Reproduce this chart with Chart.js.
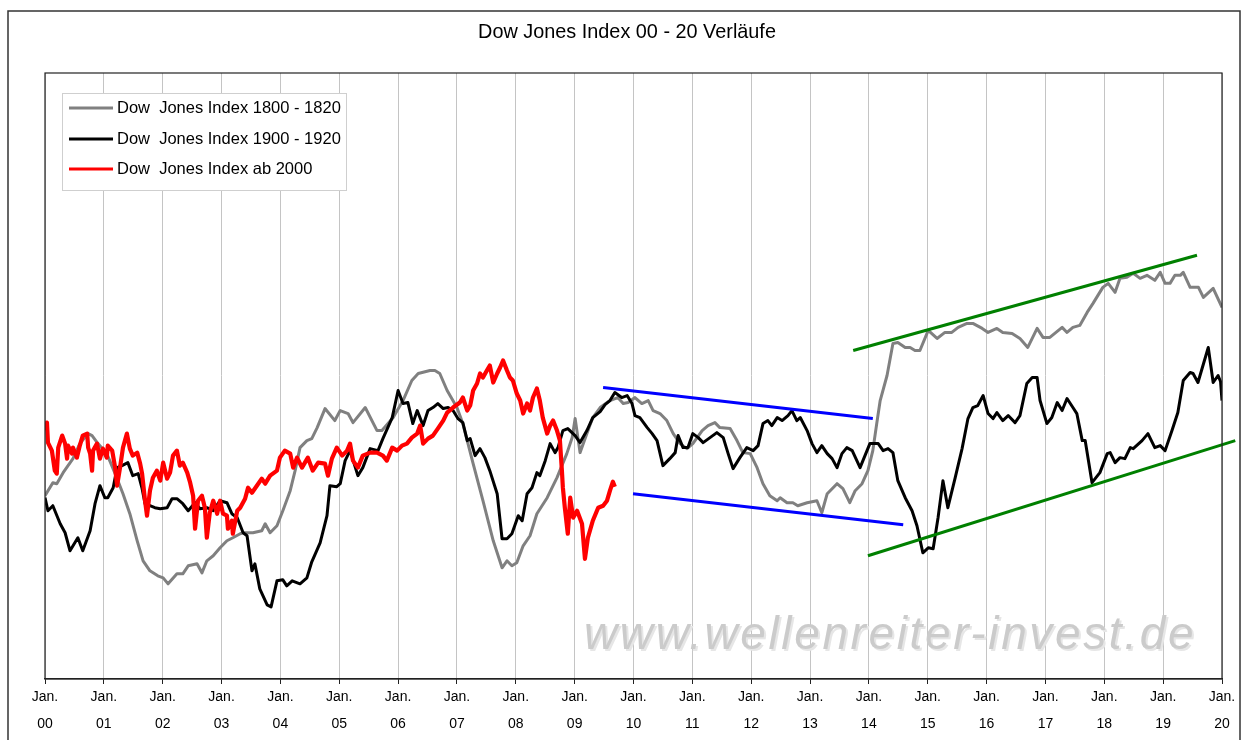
<!DOCTYPE html>
<html>
<head>
<meta charset="utf-8">
<script src="https://cdn.jsdelivr.net/npm/chart.js@4"></script>
<style>
  html, body { margin: 0; padding: 0; background: #fff; }
  #wrap { width: 1245px; height: 740px; position: relative; }
</style>
</head>
<body>
<div id="wrap"><canvas id="myChart"></canvas></div>
<script>
// x = months since Jan. 2000, y = index level (chart has no y labels)
const yearLabels = ["00", "01", "02", "03", "04", "05", "06", "07", "08", "09", "10",
  "11", "12", "13", "14", "15", "16", "17", "18", "19", "20"];

const seriesNames = ["Dow  Jones Index 1800 - 1820", "Dow  Jones Index 1900 - 1920", "Dow  Jones Index ab 2000"];

const dow1800 = [
  [0, 183], [1.6, 196], [2.4, 195], [3.7, 206], [5.7, 220], [7.1, 235], [8.8, 245], [9.6, 243],
  [10.8, 235], [12.6, 225], [14.3, 205], [15.9, 185], [17.3, 165], [18.8, 138], [20, 118], [21.4, 108],
  [23, 103], [24.1, 101], [25.1, 95], [26.9, 105], [28.1, 105], [29.2, 113], [31, 115], [32, 106],
  [33, 118], [34.3, 123], [35.7, 131], [37.1, 138], [38.3, 141], [39.8, 145], [40.4, 146], [42.4, 146],
  [44.2, 148], [44.9, 155], [45.9, 146], [47.3, 153], [48.5, 168], [50, 188], [51, 208], [52, 231],
  [53.4, 238], [54.4, 240], [55.5, 251], [57.1, 270], [59.1, 258], [60.2, 268], [61.8, 265], [62.8, 256],
  [65.3, 271], [67.7, 248], [68.7, 248], [71, 261], [73, 278], [74.8, 298], [76.1, 305], [78.5, 308],
  [79.5, 308], [80.5, 305], [82, 288], [84, 271], [85.2, 255], [87.3, 215], [89.3, 178], [91.4, 138],
  [93.2, 111], [94.2, 118], [95.2, 113], [96.2, 116], [97.5, 133], [98.9, 143], [100.3, 165], [102.4, 181],
  [104.4, 201], [106.4, 225], [107.5, 241], [108.1, 260], [109.1, 226], [110.5, 245], [111.7, 261], [113.2, 271],
  [115.2, 278], [116.8, 281], [117.9, 275], [118.9, 276], [120.3, 281], [121.7, 275], [123, 278], [124, 268],
  [125.4, 265], [126.8, 258], [128.1, 245], [129.5, 235], [130.9, 230], [132.1, 235], [134, 248], [135.2, 253],
  [136.6, 256], [137.6, 251], [139.7, 250], [141.1, 238], [142.3, 226], [143.8, 225], [145.2, 211], [146.4, 195],
  [147.8, 183], [149.3, 178], [149.9, 181], [151.3, 176], [152.5, 176], [153.5, 173], [155.4, 176], [157.4, 178],
  [158.4, 166], [159.5, 185], [161.5, 195], [162.7, 190], [164.1, 176], [165.2, 188], [166.6, 195], [167.8, 208],
  [168.8, 228], [169.6, 255], [170.3, 278], [171.7, 303], [172.9, 335], [173.9, 336], [175.4, 331], [176.4, 331],
  [177.4, 328], [178.4, 328], [180.1, 348], [181.9, 340], [183.5, 346], [184.9, 346], [186.2, 351], [188, 355],
  [189.2, 355], [191.1, 350], [192.3, 346], [194.1, 350], [195.3, 346], [197.2, 345], [198.8, 340], [200.4, 331],
  [202.3, 350], [203.5, 341], [204.9, 341], [207.4, 351], [208.4, 346], [209.6, 351], [211, 353], [212.5, 366],
  [213.7, 375], [215.7, 391], [216.8, 395], [218.2, 386], [219.2, 400], [220.6, 401], [221.9, 405], [223.3, 400],
  [224.7, 403], [226.3, 398], [227.4, 406], [228.4, 395], [229.4, 395], [230.4, 403], [231.5, 403], [232.1, 406],
  [233.5, 391], [235.2, 391], [236.2, 381], [238.2, 390], [240, 371]
];

const dow1900 = [
  [0, 181], [0.6, 168], [1.6, 173], [3.1, 155], [4.1, 146], [5.1, 128], [6.7, 141], [7.7, 128],
  [9.2, 148], [10.2, 175], [11.2, 193], [12.2, 181], [12.8, 181], [13.9, 191], [14.7, 211], [15.7, 213],
  [16.9, 216], [17.9, 203], [19, 205], [19.8, 190], [20.4, 175], [21.4, 173], [22.4, 171], [23.5, 170],
  [24.9, 171], [25.9, 180], [26.9, 180], [28.1, 175], [29.2, 168], [30.6, 176], [31.6, 170], [33, 171],
  [34.3, 168], [35.7, 178], [37.1, 176], [38.1, 165], [39.2, 161], [40.4, 146], [41.2, 143], [42.2, 108],
  [42.8, 115], [43.8, 90], [45.3, 74], [46.1, 72], [47.3, 98], [48.5, 99], [49.3, 93], [50.4, 98],
  [52, 95], [53.4, 101], [54.4, 117], [56.1, 136], [57.5, 163], [58.1, 193], [59.5, 192], [60.2, 195],
  [61.2, 218], [62.2, 228], [63.8, 203], [64.8, 211], [66.3, 230], [67.9, 228], [68.9, 240], [70.8, 261],
  [72, 288], [73, 275], [74, 276], [75, 255], [75.9, 268], [77.1, 253], [78.1, 268], [79.1, 271],
  [80.1, 275], [81.2, 270], [82.2, 271], [83.2, 268], [84.2, 260], [85.2, 256], [86.1, 238], [86.7, 240],
  [87.7, 223], [88.7, 230], [89.7, 221], [90.7, 208], [92.2, 185], [93.2, 140], [94.2, 140], [95.2, 145],
  [96.5, 163], [97.3, 158], [98.3, 185], [99.3, 191], [100.3, 206], [100.9, 203], [102, 218], [103, 235],
  [104, 226], [104.6, 231], [105.6, 248], [106.6, 250], [108.1, 243], [109.1, 236], [110.5, 248], [111.7, 261],
  [113.2, 267], [114.2, 274], [115.2, 278], [116.2, 286], [117.6, 281], [118.7, 283], [119.7, 275], [120.3, 263],
  [121.3, 261], [122.8, 251], [123.8, 245], [124.8, 238], [126, 213], [127.4, 220], [128.5, 226], [129.1, 243],
  [130.1, 231], [131.1, 231], [132.1, 245], [133.2, 241], [134.2, 236], [135.6, 241], [137, 246], [138.3, 241],
  [139.3, 225], [140.3, 210], [141.7, 221], [143.1, 231], [144.4, 228], [145.4, 233], [146.4, 255], [147.4, 258],
  [148.2, 253], [149.3, 261], [150.3, 258], [151.5, 263], [152.3, 268], [153.3, 258], [154, 261], [155.4, 248],
  [156.4, 235], [157.4, 226], [158.4, 233], [159.5, 225], [160.5, 220], [161.5, 211], [162.5, 225], [163.5, 231],
  [164.6, 228], [166.2, 211], [167.2, 223], [168.2, 235], [169.9, 235], [170.9, 228], [171.9, 230], [172.9, 226],
  [173.9, 198], [175.4, 181], [176.8, 168], [177.8, 153], [179, 126], [180.1, 131], [181.1, 130], [182.1, 161],
  [183.1, 198], [184.1, 171], [185.6, 201], [187, 230], [188.2, 260], [189.2, 271], [190.2, 273], [191.3, 283],
  [192.3, 265], [193.3, 260], [194.1, 266], [195.3, 258], [196.4, 263], [197.8, 256], [198.8, 263], [200.2, 295],
  [201.3, 301], [202.3, 301], [202.9, 278], [204.3, 255], [205.3, 261], [206.4, 276], [207.4, 268], [208.4, 280],
  [209.6, 271], [210.4, 265], [211.5, 238], [212.1, 238], [213.5, 196], [215.1, 206], [216.6, 225], [217.2, 226],
  [218.2, 216], [219.2, 221], [220.2, 220], [221.3, 231], [221.9, 230], [223.7, 238], [224.9, 245], [226.3, 231],
  [227.4, 233], [228.4, 228], [229.8, 248], [231, 266], [232.1, 298], [233.5, 306], [234.1, 305], [235.1, 296],
  [237.2, 331], [238.2, 296], [239.2, 303], [239.7, 297], [240, 278]
];

const dow2000 = [
  [0, 248], [0.4, 256], [0.6, 236], [1.4, 228], [2, 208], [2.4, 205], [2.7, 231], [3.5, 243],
  [4.1, 235], [4.5, 220], [4.7, 233], [5.5, 225], [5.7, 231], [6.5, 221], [7.1, 233], [7.7, 243],
  [8.6, 245], [8.8, 231], [9.2, 225], [9.6, 208], [9.8, 228], [10.6, 235], [11.2, 220], [11.8, 230],
  [12.6, 221], [12.8, 233], [13.7, 228], [14.3, 211], [14.7, 193], [15.3, 211], [15.9, 231], [16.7, 245],
  [17.3, 230], [17.9, 223], [18.8, 226], [19.4, 215], [19.8, 205], [20.4, 178], [20.8, 163], [21.4, 188],
  [22, 201], [22.8, 208], [23.5, 198], [24.1, 216], [24.9, 200], [25.5, 206], [26.1, 223], [26.9, 228],
  [27.5, 213], [28.1, 216], [29, 206], [29.6, 196], [30.2, 183], [30.6, 150], [31.2, 178], [32, 183],
  [32.6, 171], [33, 141], [33.6, 166], [34.3, 178], [35.1, 165], [35.7, 178], [36.3, 165], [37.1, 163],
  [37.3, 150], [38.1, 158], [38.3, 145], [39.2, 168], [39.8, 171], [40.8, 180], [41.4, 191], [42.2, 186],
  [43.2, 193], [44.2, 200], [44.9, 195], [45.9, 203], [47.3, 208], [47.9, 221], [48.9, 228], [50, 225],
  [50.6, 211], [51.4, 221], [52.4, 211], [53.6, 221], [54.6, 208], [55.7, 216], [57.1, 215], [57.7, 203],
  [58.5, 220], [59.5, 231], [60.6, 223], [61.6, 228], [62.2, 235], [62.8, 218], [63.8, 211], [64.8, 223],
  [66.3, 226], [67.7, 226], [68.9, 223], [69.7, 218], [70.8, 231], [71.8, 228], [72.8, 233], [73.8, 235],
  [74.8, 241], [75.9, 245], [76.5, 253], [77.1, 235], [78.1, 240], [79.1, 243], [80.1, 250], [81.2, 258],
  [82, 266], [83.2, 271], [84.6, 276], [85.2, 281], [86.1, 268], [86.7, 273], [87.3, 288], [88.1, 295],
  [88.7, 305], [89.3, 301], [90.1, 308], [90.7, 313], [91.4, 296], [92.2, 305], [92.8, 311], [93.4, 318],
  [94.2, 308], [94.8, 301], [95.4, 298], [96.2, 285], [96.9, 278], [97.5, 265], [98.3, 275], [98.9, 268],
  [99.5, 281], [100.3, 290], [100.9, 278], [101.5, 261], [102.4, 245], [103, 253], [103.6, 258], [104.4, 248],
  [105, 238], [105.4, 208], [105.6, 191], [106, 171], [106.6, 145], [107.1, 181], [107.7, 161], [108.5, 168],
  [109.5, 155], [110.1, 120], [110.7, 141], [111.7, 158], [112.8, 171], [113.8, 173], [114.6, 178], [115.2, 188],
  [115.8, 197], [116.2, 192]
];

// hand drawn trend channels
const blueUpper = [[113.8, 291], [168.8, 260]];
const blueLower = [[119.9, 185], [175.0, 154]];
const greenUpper = [[164.8, 328], [234.9, 423]];
const greenLower = [[167.8, 123], [242.7, 238]];

const toXY = (arr) => arr.map(([x, y]) => ({ x: x, y: y }));
const FONT = "'Liberation Sans', Arial, sans-serif";

function lineSet(label, arr, color, order, extra) {
  return Object.assign({
    label: label,
    data: toXY(arr),
    borderColor: color,
    backgroundColor: color,
    borderWidth: 3,
    pointRadius: 0,
    tension: 0,
    borderJoinStyle: "round",
    order: order,
  }, extra || {});
}

// draw text at a fixed size, spreading the letters so it spans a given width
function spreadText(c, text, x, y, width, size, style) {
  c.font = (style || "") + size + "px " + FONT;
  const w = c.measureText(text).width;
  c.letterSpacing = Math.max(0, (width - w) / text.length).toFixed(2) + "px";
  c.fillText(text, x, y);
  c.letterSpacing = "0px";
}

// draw text with its font size scaled so it spans a given width
function fitText(c, text, x, y, width, base) {
  c.font = base + "px " + FONT;
  const size = base * width / c.measureText(text).width;
  c.font = size.toFixed(2) + "px " + FONT;
  c.fillText(text, x, y);
}

const decorations = {
  id: "decorations",
  beforeDraw(chart) {
    const c = chart.ctx;
    c.save();
    c.fillStyle = "#fff";
    c.fillRect(0, 0, chart.width, chart.height);
    c.strokeStyle = "#333";
    c.lineWidth = 1.5;
    c.strokeRect(8, 11, 1232, 760);
    c.restore();
  },
  beforeDatasetsDraw(chart) {
    const c = chart.ctx;
    c.save();
    c.textAlign = "left";
    c.textBaseline = "alphabetic";
    c.fillStyle = "#e6e6e6";
    spreadText(c, "www.wellenreiter-invest.de", 586, 651, 612, 46, "italic ");
    c.fillStyle = "#cbcbcb";
    spreadText(c, "www.wellenreiter-invest.de", 584, 649, 612, 46, "italic ");
    c.restore();
  },
  afterDraw(chart) {
    const c = chart.ctx;
    const a = chart.chartArea;
    c.save();
    // plot frame
    c.strokeStyle = "#222";
    c.lineWidth = 1.2;
    c.strokeRect(a.left, a.top, a.right - a.left, a.bottom - a.top);

    // title
    c.fillStyle = "#000";
    c.textAlign = "center";
    c.textBaseline = "middle";
    fitText(c, "Dow Jones Index 00 - 20 Verläufe", 627, 33, 298, 16);

    // legend
    c.fillStyle = "#fff";
    c.fillRect(62, 93, 284, 97);
    c.strokeStyle = "#cfcfcf";
    c.lineWidth = 1;
    c.strokeRect(62.5, 93.5, 284, 97);
    const rowsY = [108, 139, 169];
    const colors = ["#808080", "#000000", "#ff0000"];
    c.textAlign = "left";
    c.font = "15px " + FONT;
    const size = 15 * 224 / c.measureText(seriesNames[0]).width;
    c.font = size.toFixed(2) + "px " + FONT;
    seriesNames.forEach((name, i) => {
      c.strokeStyle = colors[i];
      c.lineWidth = 3;
      c.beginPath();
      c.moveTo(69, rowsY[i]);
      c.lineTo(113, rowsY[i]);
      c.stroke();
      c.fillStyle = "#000";
      c.fillText(name, 117, rowsY[i]);
    });
    c.restore();
  },
};

const ctx = document.getElementById("myChart");

new Chart(ctx, {
  type: "line",
  data: {
    datasets: [
      lineSet("Trend 1", blueUpper, "#0000ff", 1),
      lineSet("Trend 2", blueLower, "#0000ff", 1),
      lineSet("Trend 3", greenUpper, "#008000", 1),
      lineSet("Trend 4", greenLower, "#008000", 1, { clip: false }),
      lineSet(seriesNames[2], dow2000, "#ff0000", 2, { borderWidth: 4.2 }),
      lineSet(seriesNames[1], dow1900, "#000000", 3),
      lineSet(seriesNames[0], dow1800, "#808080", 4),
    ],
  },
  options: {
    responsive: true,
    maintainAspectRatio: false,
    animation: false,
    events: [],
    layout: { padding: { left: 45, top: 73, right: 23, bottom: 0 } },
    plugins: {
      legend: { display: false },
      tooltip: { enabled: false },
    },
    scales: {
      x: {
        type: "linear",
        min: 0,
        max: 240,
        afterFit: (s) => { s.height = 61; },
        grid: {
          color: "#c4c4c4",
          lineWidth: 1,
          drawTicks: true,
          tickLength: 5,
          tickColor: "#222",
        },
        border: { color: "#222", width: 1.2 },
        ticks: {
          stepSize: 12,
          autoSkip: false,
          maxRotation: 0,
          padding: 0,
          color: "#000",
          font: { family: FONT, size: 14, lineHeight: 1.9 },
          callback: (v) => ["Jan.", yearLabels[v / 12]],
        },
      },
      y: {
        display: false,
        min: 0,
        max: 605,
      },
    },
  },
  plugins: [decorations],
});
</script>
</body>
</html>
